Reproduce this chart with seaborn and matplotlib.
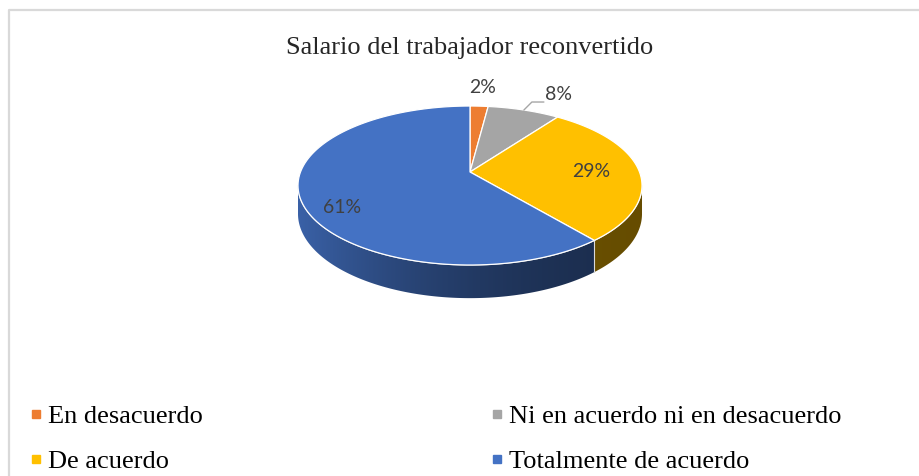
#!/usr/bin/env python3
"""
3D-style pie: Salario del trabajador reconvertido.
"""

import numpy as np
import matplotlib
matplotlib.use('Agg')
import matplotlib.pyplot as plt
from matplotlib.patches import Polygon
from matplotlib.lines import Line2D
from matplotlib.font_manager import FontProperties
import seaborn as sns

# Data
categories = ['En desacuerdo', 'Ni en acuerdo ni en desacuerdo', 'De acuerdo', 'Totalmente de acuerdo']
values = [2, 8, 29, 61]
labels = ['2%', '8%', '29%', '61%']
title = 'Salario del trabajador reconvertido'

sns.set_theme(style='white')
plt.rcParams['font.family'] = ['Liberation Serif', 'DejaVu Serif']

colors = ['#ED7D31', '#A5A5A5', '#FFC000', '#4472C4']

# Geometry of the projected pie (pixel space)
CX, CY = 470, 172
R, S, K = 169.5, 77.2, 0.17
DEPTH = 27.5


def proj(u, v, dz=0.0):
    w = 1 + K * v
    return CX + R * u / w, CY - S * v / w + dz / w


def arc(t0, t1, r=1.0, dz=0.0, n=120):
    th = np.radians(np.linspace(t0, t1, n))
    return [proj(r * np.sin(t), r * np.cos(t), dz) for t in th]


W, H = 919, 476
fig = plt.figure(figsize=(W / 100, H / 100), dpi=100)
ax = fig.add_axes([0, 0, 1, 1])
ax.set_xlim(0, W)
ax.set_ylim(H, 0)
ax.axis('off')

# Chart border
ax.plot([9, 9, W + 5], [H + 5, 10, 10], color='#d9d9d9', lw=1.6, solid_capstyle='butt')

# Angles (degrees, clockwise from 12 o'clock)
frac = np.array(values) / np.sum(values)
bounds = np.concatenate([[0], np.cumsum(frac) * 360])

# Visible outer wall limits (silhouette)
t_right = np.degrees(np.arccos(-K))
t_left = 360 - t_right
x_left = proj(np.sin(np.radians(t_left)), np.cos(np.radians(t_left)))[0]
x_right = proj(np.sin(np.radians(t_right)), np.cos(np.radians(t_right)))[0]

# Side walls: gradient image clipped to each wall polygon
xs = np.linspace(x_left, x_right, 400)
tt = (x_right - xs) / (x_right - x_left)
fac = 0.40 + 0.45 * tt ** 2
for i, col in enumerate(colors):
    a0 = max(bounds[i], t_right)
    a1 = min(bounds[i + 1], t_left)
    if a1 <= a0:
        continue
    base = np.array(matplotlib.colors.to_rgb(col))
    img = np.clip(fac[None, :, None] * base[None, None, :], 0, 1)
    wall = Polygon(arc(a0, a1) + arc(a1, a0, dz=DEPTH), closed=True,
                   facecolor='none', edgecolor='none')
    ax.add_patch(wall)
    im = ax.imshow(img, extent=(x_left, x_right, CY + 140, CY - 10),
                   aspect='auto', interpolation='bilinear', zorder=1)
    im.set_clip_path(wall)

ax.set_xlim(0, W)
ax.set_ylim(H, 0)

# thin highlight along top rim of the wall and dividers
rim = arc(t_right, t_left)
ax.plot([p[0] for p in rim], [p[1] for p in rim], color='#e8e8e8', lw=0.8, zorder=2)
for b in bounds:
    if t_right < b < t_left:
        p0 = proj(np.sin(np.radians(b)), np.cos(np.radians(b)))
        p1 = proj(np.sin(np.radians(b)), np.cos(np.radians(b)), DEPTH)
        ax.plot([p0[0], p1[0]], [p0[1], p1[1]], color='#d9d9d9', lw=0.8, zorder=2)

# Top faces
for i, col in enumerate(colors):
    pts = [proj(0, 0)] + arc(bounds[i], bounds[i + 1])
    ax.add_patch(Polygon(pts, closed=True, facecolor=col, edgecolor='white',
                         lw=0.9, joinstyle='round', zorder=3))

# Data labels
lab_font = dict(family=['Lato', 'DejaVu Sans'], fontsize=14, color='#404040', zorder=5)
mids = 0.5 * (bounds[:-1] + bounds[1:])

# 2% outside, no leader
x, y = proj(1.32 * np.sin(np.radians(mids[0])), 1.32 * np.cos(np.radians(mids[0])))
ax.text(x + 1, y - 1, labels[0], ha='center', va='center', **lab_font)

# 8% outside, with leader line
ex, ey = proj(np.sin(np.radians(mids[1])), np.cos(np.radians(mids[1])))
ax.plot([ex, ex + 8, ex + 20], [ey, ey - 8, ey - 8], color='#a6a6a6', lw=1.0, zorder=4)
ax.text(ex + 21, ey - 16, labels[1], ha='left', va='center', **lab_font)

# 29% and 61% inside
x, y = proj(0.72 * np.sin(np.radians(mids[2])), 0.72 * np.cos(np.radians(mids[2])))
ax.text(x, y + 1, labels[2], ha='center', va='center', **lab_font)
x, y = proj(0.80 * np.sin(np.radians(mids[3])), 0.80 * np.cos(np.radians(mids[3])))
ax.text(x + 6, y + 14, labels[3], ha='center', va='center', **lab_font)

# Title
serif = FontProperties(family='Liberation Serif', size=19)
ax.text(470, 48, title, ha='center', va='center', color='#262626', fontproperties=serif)

# Legend (column-major: col1 = items 0,2 ; col2 = items 1,3)
order = [0, 2, 1, 3]
handles = [Line2D([], [], marker='s', linestyle='none', markersize=5.5,
                  markerfacecolor=colors[i], markeredgecolor=colors[i]) for i in order]
leg = ax.legend(handles, [categories[i] for i in order], ncol=2, frameon=False,
                loc='upper left', bbox_to_anchor=(31 / W, 1 - 405 / H),
                prop=serif, handlelength=0.35, handletextpad=0.3,
                columnspacing=10.95, labelspacing=0.8, borderaxespad=0, borderpad=0)
for t in leg.get_texts():
    t.set_color('#000000')
    t.set_fontproperties(serif)

fig.savefig('out.png', dpi=100)
